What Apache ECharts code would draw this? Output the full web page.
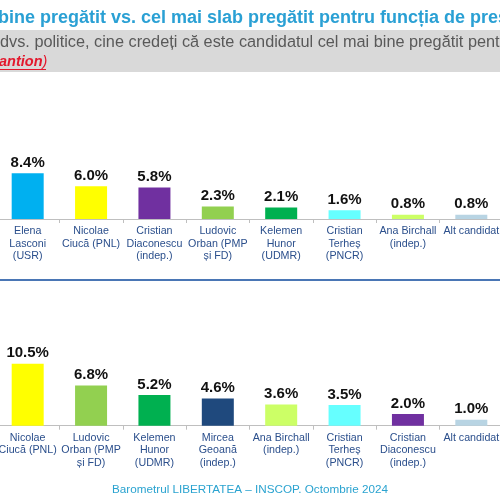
<!DOCTYPE html>
<html><head><meta charset="utf-8">
<script src="https://cdn.jsdelivr.net/npm/echarts@6/dist/echarts.min.js"></script>
<style>html,body{margin:0;padding:0;background:#fff;overflow:hidden}#c{width:500px;height:500px}</style>
</head><body><div id="c"></div>
<script>
const topCategories = ["Elena\nLasconi\n(USR)", "Nicolae\nCiucă (PNL)", "Cristian\nDiaconescu\n(indep.)", "Ludovic\nOrban (PMP\nși FD)", "Kelemen\nHunor\n(UDMR)", "Cristian\nTerheș\n(PNCR)", "Ana Birchall\n(indep.)", "Alt candidat"];
const topValues = [8.4, 6.0, 5.8, 2.3, 2.1, 1.6, 0.8, 0.8];
const topColors = ["#00b0f0", "#ffff00", "#7030a0", "#92d050", "#00b050", "#66ffff", "#ccff66", "#b8d4e3"];

const bottomCategories = ["Nicolae\nCiucă (PNL)", "Ludovic\nOrban (PMP\nși FD)", "Kelemen\nHunor\n(UDMR)", "Mircea\nGeoană\n(indep.)", "Ana Birchall\n(indep.)", "Cristian\nTerheș\n(PNCR)", "Cristian\nDiaconescu\n(indep.)", "Alt candidat"];
const bottomValues = [10.5, 6.8, 5.2, 4.6, 3.6, 3.5, 2.0, 1.0];
const bottomColors = ["#ffff00", "#92d050", "#00b050", "#1f497d", "#ccff66", "#66ffff", "#7030a0", "#b8d4e3"];

const FONT = "Liberation Sans, Arial, sans-serif";
const chart = echarts.init(document.getElementById('c'));

function xAxis(gridIndex, data) {
  return {
    type: 'category', gridIndex, data,
    axisLine: { lineStyle: { color: '#bfbfbf', width: 1 } },
    axisTick: { show: true, length: 4, lineStyle: { color: '#bfbfbf' } },
    axisLabel: { interval: 0, margin: 6, fontFamily: FONT, fontSize: 10.7, lineHeight: 12.5, color: '#2b4f8c', hideOverlap: false }
  };
}
function yAxis(gridIndex, max) {
  return { type: 'value', gridIndex, min: 0, max, show: false, splitLine: { show: false } };
}
function barSeries(idx, values, colors) {
  return {
    type: 'bar', xAxisIndex: idx, yAxisIndex: idx, barWidth: 32,
    data: values.map((v, i) => ({ value: v, itemStyle: { color: colors[i] } })),
    label: { show: true, position: 'top', distance: 3, fontFamily: FONT, fontSize: 15, fontWeight: 'bold', color: '#111',
      formatter: p => p.value.toFixed(1) + '%' }
  };
}

chart.setOption({
  animation: false,
  grid: [
    { left: -4, right: -3, top: 164.5, bottom: 281, outerBoundsMode: 'none', containLabel: false },
    { left: -4, right: -3, top: 354.9, bottom: 74.3, outerBoundsMode: 'none', containLabel: false }
  ],
  xAxis: [xAxis(0, topCategories), xAxis(1, bottomCategories)],
  yAxis: [yAxis(0, 10), yAxis(1, 12)],
  series: [barSeries(0, topValues, topColors), barSeries(1, bottomValues, bottomColors)],
  graphic: [
    { type: 'rect', shape: { x: 0, y: 30, width: 500, height: 42 }, style: { fill: '#d9d9d9' }, z: -1 },
    { type: 'text', x: -2, y: 18, style: { text: 'bine pregătit vs. cel mai slab pregătit pentru funcția de președinte', fontFamily: FONT, fontSize: 18, fontWeight: 'bold', fill: '#2aa0d4', textVerticalAlign: 'middle' } },
    { type: 'text', x: 0, y: 43, style: { text: 'dvs. politice, cine credeți că este candidatul cel mai bine pregătit pentru funcția de președinte', fontFamily: FONT, fontSize: 16.3, fill: '#595959', textVerticalAlign: 'middle' } },
    { type: 'text', x: -1, y: 62, style: { text: '{a|antion}{b|)}', fontFamily: FONT, textVerticalAlign: 'middle', fill: '#e3182d',
      rich: { a: { fontSize: 14.5, fontWeight: 'bold', fontStyle: 'italic', fill: '#e3182d' }, b: { fontSize: 14.5, fontStyle: 'italic', fill: '#e3182d' } } } },
    { type: 'line', shape: { x1: 0, y1: 69.5, x2: 46, y2: 69.5 }, style: { stroke: '#e3182d', lineWidth: 1 } },
    { type: 'line', shape: { x1: 0, y1: 280, x2: 500, y2: 280 }, style: { stroke: '#4a76b5', lineWidth: 2 } },
    { type: 'text', x: 250, y: 490, style: { text: 'Barometrul LIBERTATEA – INSCOP. Octombrie 2024', fontFamily: FONT, fontSize: 11.7, fill: '#2aa3d0', textAlign: 'center', textVerticalAlign: 'middle' } }
  ]
});
</script></body></html>
